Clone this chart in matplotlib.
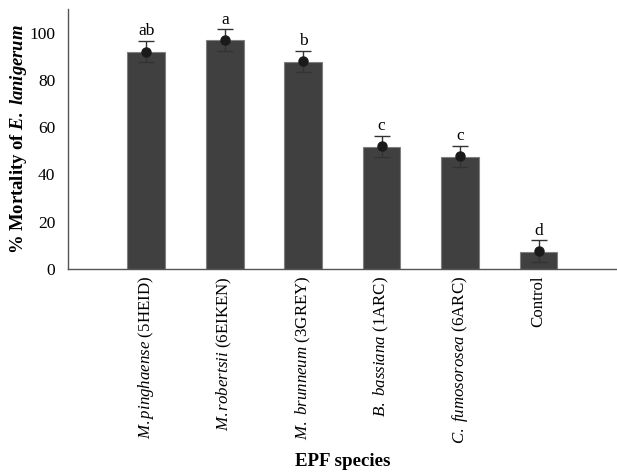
import numpy as np
import matplotlib
matplotlib.use("Agg")
import matplotlib.pyplot as plt

plt.rcParams['font.family'] = ['Liberation Serif', 'DejaVu Serif']
plt.rcParams['mathtext.fontset'] = 'custom'
plt.rcParams['mathtext.rm'] = 'Liberation Serif'
plt.rcParams['mathtext.it'] = 'Liberation Serif:italic'
plt.rcParams['mathtext.bf'] = 'Liberation Serif:bold'
plt.rcParams['mathtext.bfit'] = 'Liberation Serif:bold:italic'

# data
labels = [r'$\mathit{M.pinghaense}$ (5HEID)',
          r'$\mathit{M.robertsii}$ (6EIKEN)',
          r'$\mathit{M.}$ $\mathit{brunneum}$ (3GREY)',
          r'$\mathit{B.}$ $\mathit{bassiana}$ (1ARC)',
          r'$\mathit{C.}$ $\mathit{fumosorosea}$ (6ARC)',
          'Control']
bar_heights = [91.8, 96.7, 87.6, 51.6, 47.4, 7.2]
means = [92.0, 96.9, 87.8, 51.8, 47.6, 7.6]
errors = [4.6, 4.6, 4.6, 4.6, 4.6, 4.6]
letters = ['ab', 'a', 'b', 'c', 'c', 'd']

x = np.arange(1, len(labels) + 1)

fig = plt.figure(figsize=(6.17, 4.75), dpi=100)
ax = fig.add_axes([0.110, 0.434, 0.890, 0.547])

ax.bar(x, bar_heights, width=0.48, color='#404040', edgecolor='#808080', linewidth=0.8, zorder=2)
ax.errorbar(x, means, yerr=errors, fmt='o', color='#1a1a1a', ecolor='#333333',
            markersize=6.5, capsize=6, elinewidth=1, capthick=1, zorder=3)

for xi, m, e, t in zip(x, means, errors, letters):
    ax.text(xi, m + e + 0.5, t, ha='center', va='bottom', fontsize=12.5)

ax.set_xlim(0, 7)
ax.set_ylim(0, 110)
ax.set_yticks([0, 20, 40, 60, 80, 100])
ax.set_xticks(x)
ax.set_xticklabels(labels, rotation=90, fontsize=12.2)
ax.tick_params(axis='y', length=0, labelsize=12.5, pad=9)
ax.tick_params(axis='x', length=0, pad=5)

for s in ['top', 'right']:
    ax.spines[s].set_visible(False)
for s in ['left', 'bottom']:
    ax.spines[s].set_color('#555555')
    ax.spines[s].set_linewidth(1)

ax.set_ylabel(r'% Mortality of $\mathbfit{E.}$ $\mathbfit{lanigerum}$', fontsize=13.4, fontweight='bold')
ax.yaxis.set_label_coords(-0.089, 0.5)
ax.set_xlabel('EPF species', fontsize=13.6, fontweight='bold')
ax.xaxis.set_label_coords(0.50, -0.742)
ax.xaxis.label.set_va('center')
ax.yaxis.label.set_va('center')

fig.savefig('out.png', dpi=100)
